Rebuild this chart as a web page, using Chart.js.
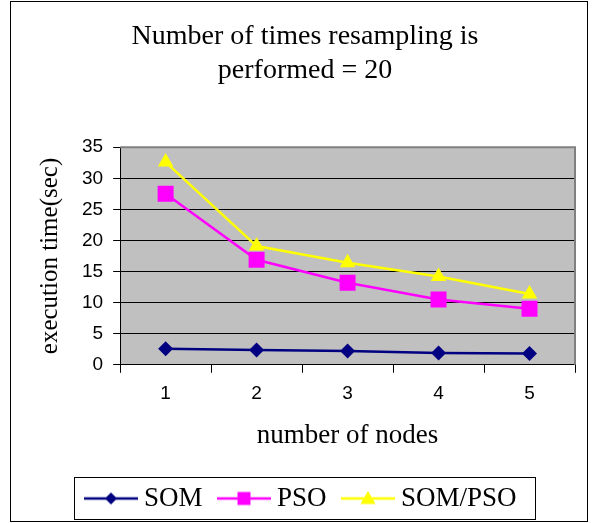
<!DOCTYPE html>
<html>
<head>
<meta charset="utf-8" />
<title>Resampling 20</title>
<script src="https://cdn.jsdelivr.net/npm/chart.js@4/dist/chart.umd.min.js"></script>
<style>
  body { margin: 0; background: #fff; }
  #wrap { width: 595px; height: 523px; }
</style>
<script>
  // values
  var nodes = ["1", "2", "3", "4", "5"];
  var somTimes = [2.6, 2.4, 2.2, 1.9, 1.8];
  var psoTimes = [27.5, 16.9, 13.2, 10.5, 9.0];
  var somPsoTimes = [32.6, 19.1, 16.4, 14.2, 11.4];
  var seriesNames = ["SOM", "PSO", "SOM/PSO"];
  var titleLines = ["Number of times resampling is", "performed = 20"];
</script>
</head>
<body>
<div id="wrap"><canvas id="c" width="595" height="523"></canvas></div>
<script>
  var serif = "'Liberation Serif', 'Times New Roman', serif";
  var sans = "'Liberation Sans', Arial, sans-serif";

  var colors = ["#000080", "#FF00FF", "#FFFF00"];
  var styles = ["rectRot", "rect", "triangle"];
  var radii = [7.5, 11.3, 9];

  // legend picture: short line with the marker in the middle (Excel style)
  // line sits on the left of the canvas so the text comes close after it
  function legendIcon(color, style) {
    var cv = document.createElement("canvas");
    cv.width = 56; cv.height = 20;
    var g = cv.getContext("2d");
    g.strokeStyle = color; g.lineWidth = 2.5;
    g.beginPath(); g.moveTo(0, 10); g.lineTo(54, 10); g.stroke();
    g.fillStyle = color;
    g.beginPath();
    if (style === "rectRot") {
      g.moveTo(21, 10); g.lineTo(27, 4); g.lineTo(33, 10); g.lineTo(27, 16);
    } else if (style === "rect") {
      g.rect(20.5, 3.5, 13, 13);
    } else {
      g.moveTo(27, 2.5); g.lineTo(34.5, 15.5); g.lineTo(19.5, 15.5);
    }
    g.closePath(); g.fill();
    return cv;
  }
  var icons = colors.map(function (c, i) { return legendIcon(c, styles[i]); });

  var frame = {
    id: "frame",
    beforeDraw: function (chart) {
      var a = chart.chartArea, ctx = chart.ctx;
      ctx.save();
      ctx.fillStyle = "#C0C0C0";
      ctx.fillRect(a.left, a.top, a.right - a.left, a.bottom - a.top);
      ctx.restore();
    },
    afterDraw: function (chart) {
      var a = chart.chartArea, ctx = chart.ctx;
      ctx.save();
      // grey frame on top and right of the plot
      ctx.strokeStyle = "#808080"; ctx.lineWidth = 2;
      ctx.beginPath();
      ctx.moveTo(a.left, a.top); ctx.lineTo(a.right, a.top); ctx.lineTo(a.right, a.bottom);
      ctx.stroke();
      // outer chart border
      ctx.strokeStyle = "#000"; ctx.lineWidth = 1;
      ctx.strokeRect(10.5, 1.5, 577, 520);
      // box round the legend
      var hb = chart.legend.legendHitBoxes;
      if (hb && hb.length) {
        var l = Math.min.apply(null, hb.map(function (b) { return b.left; }));
        var r = Math.max.apply(null, hb.map(function (b) { return b.left + b.width; }));
        var t = Math.min.apply(null, hb.map(function (b) { return b.top; }));
        var bt = Math.max.apply(null, hb.map(function (b) { return b.top + b.height; }));
        var x0 = Math.round(l - 19) + 0.5, y0 = Math.round(t - 8) + 0.5;
        ctx.strokeRect(x0, y0, Math.round(r + 18) - x0 + 0.5, Math.round(bt + 7) - y0 + 0.5);
      }
      ctx.restore();
    }
  };

  var data = {
    labels: nodes,
    datasets: [somTimes, psoTimes, somPsoTimes].map(function (vals, i) {
      return {
        label: seriesNames[i],
        data: vals,
        borderColor: colors[i],
        backgroundColor: colors[i],
        borderWidth: 2.5,
        pointStyle: styles[i],
        pointRadius: radii[i],
        pointHoverRadius: radii[i],
        pointBorderWidth: 0,
        tension: 0
      };
    })
  };

  new Chart(document.getElementById("c"), {
    type: "line",
    data: data,
    plugins: [frame],
    options: {
      responsive: false,
      animation: false,
      events: [],
      layout: { padding: { left: 35, right: 20, top: 0, bottom: 1 } },
      plugins: {
        title: {
          display: true,
          text: titleLines,
          color: "#000",
          font: { family: serif, size: 28, weight: "normal", lineHeight: 1.2 },
          padding: { top: 20, bottom: 60 }
        },
        legend: {
          position: "bottom",
          labels: {
            usePointStyle: true,
            pointStyleWidth: 37,
            color: "#000",
            font: { family: serif, size: 27 },
            padding: 24,
            generateLabels: function (chart) {
              return chart.data.datasets.map(function (ds, i) {
                return { text: ds.label, pointStyle: icons[i], datasetIndex: i, fillStyle: colors[i], strokeStyle: colors[i], lineWidth: 0 };
              });
            }
          }
        },
        tooltip: { enabled: false }
      },
      scales: {
        x: {
          offset: true,
          grid: { display: true, offset: true, drawOnChartArea: false, color: "#000", tickLength: 8 },
          border: { color: "#000", width: 1 },
          ticks: { color: "#000", font: { family: sans, size: 19 }, padding: 10 },
          title: { display: true, text: "number of nodes", color: "#000", font: { family: serif, size: 27 }, padding: { top: 4, bottom: 9 } }
        },
        y: {
          min: 0, max: 35,
          ticks: { stepSize: 5, color: "#000", font: { family: sans, size: 19 }, padding: 10 },
          grid: { color: "#000", lineWidth: 1, tickLength: 7 },
          border: { color: "#000", width: 1 },
          title: { display: true, text: "execution time(sec)", color: "#000", font: { family: serif, size: 25 }, padding: { top: 0, bottom: 7 } }
        }
      }
    }
  });
</script>
</body>
</html>
